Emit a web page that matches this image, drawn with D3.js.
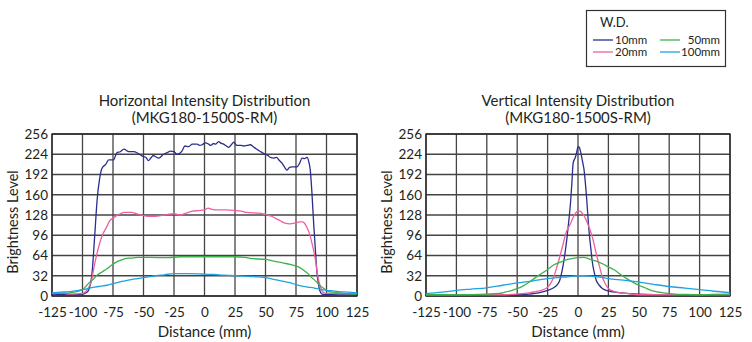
<!DOCTYPE html>
<html><head><meta charset="utf-8">
<script src="https://cdn.jsdelivr.net/npm/d3@7"></script>
<style>
body{margin:0;background:#fff;}
svg text{font-family:Lato,"Open Sans",sans-serif;fill:#231f20;}
</style></head>
<body><svg id="c" width="752" height="342"></svg>
<script>
// ---- data ----
const seriesNames = ["10mm","20mm","50mm","100mm"];
const seriesColors = ["#2a2e8c","#ef5f9f","#3db24a","#1ea3e0"];
const xTicks = [-125,-100,-75,-50,-25,0,25,50,75,100,125];
const yTicks = [0,32,64,96,128,160,192,224,256];
const titlesH = ["Horizontal Intensity Distribution","(MKG180-1500S-RM)"];
const titlesV = ["Vertical Intensity Distribution","(MKG180-1500S-RM)"];

// Horizontal distribution [distance, brightness]
const h10 = [[-125,3],[-110,2],[-100,3],[-97,5],[-95,9],[-92,40],[-90,95],[-88,152],[-86,185],[-84,202],[-81,208],[-78.5,215],[-74.5,215],[-72,226],[-69,228],[-66,232],[-62,228],[-58,228],[-55,226],[-51,221],[-48,219],[-46,214],[-44,218],[-42,222],[-40,220],[-37.5,218],[-33.5,224],[-30,227],[-28,229],[-25,228],[-22.5,224],[-20,226],[-18.5,229],[-16,237],[-13,236],[-10,240],[-6,240],[-4,238],[-2,239],[0.7,242],[3.4,240],[5,238],[7.5,241],[9,240],[11.6,244],[13,242],[15.7,240],[18,237],[19.8,235],[22,239],[24,243],[26.6,238],[30,238],[32,237],[35,238],[37.5,239],[40,236],[42,233],[44.4,230],[47,227],[49.9,224],[52,222],[54,219],[57,218],[59,219],[61,215],[63.5,210],[65.5,204],[67.6,199],[69.5,203],[71.7,204],[75.8,204],[78,210],[80,218],[82,217],[84,219],[85.5,212],[86.7,199],[88,165],[89.5,114],[91,70],[92,41],[93.5,18],[94.4,9],[96.3,3],[100,2],[110,3],[125,3]];
const h20 = [[-125,5],[-115,4],[-110,3],[-100,4],[-98,6],[-95.5,12],[-93,22],[-90,51],[-88,68],[-86,83],[-83,99],[-80,110],[-78,118],[-75,123],[-72,127],[-69,130],[-66,132],[-60,132],[-56,130],[-52,128],[-45,126],[-40,126],[-36,127],[-30,129],[-25,130],[-20,128],[-15,131],[-10,134],[-5,135],[0,136],[3,139],[6,137],[12,136],[18,136],[25,135],[30,134],[35,132],[45,131],[50,129],[55,126],[58,123],[62,119],[66,115],[70,114],[74,115],[78,117],[80,117],[82,115],[84,108],[86,99],[88,84],[90,67],[91.5,50],[93,30],[95,15],[96,9],[98,5],[100,4],[110,4],[125,4]];
const h50 = [[-125,4],[-110,5],[-100,10],[-95,20],[-91,27],[-88,33],[-84,38],[-80,43],[-76,49],[-72,54],[-68,57],[-65,59],[-60,60],[-55,61],[-45,61],[-30,60.5],[-20,62],[-10,62],[0,62],[10,62],[25,62],[33,61],[40,59],[50,58],[55,56],[60,54],[65,52],[70,50],[74,48],[77,46],[81,41],[85,35],[88,29],[92,22],[95,16],[97,13],[100,9],[102,7],[106,6],[110,5],[125,3]];
const h100 = [[-125,5],[-118,6],[-110,7],[-105,8.5],[-100,10],[-95,12],[-90,14],[-85,15.5],[-80,17],[-75,19.5],[-70,22],[-65,24],[-60,26],[-55,27.5],[-50,29],[-45,30.5],[-40,32],[-33,33.5],[-25,35.5],[-15,35.5],[-5,35],[0,34.5],[8,34],[15,33],[25,32],[33,31.5],[40,30.5],[50,29],[55,27],[60,25],[65,23],[70,21],[75,18],[80,15.5],[85,14],[90,12.5],[95,10.5],[100,9],[105,8],[110,7],[118,6],[125,5]];

// Vertical distribution [distance, brightness]
const v10 = [[-125,1],[-100,1],[-75,2],[-50,2],[-40,3],[-35,4],[-30,6],[-25,9],[-20,13],[-17,18],[-15,25],[-13.5,36],[-12,51],[-10.5,70],[-9,93],[-7.5,120],[-6,151],[-5,180],[-4,210],[-2,220],[-1,228],[0,236],[1,235],[2,229],[3,220],[4,210],[5,199],[6,180],[7,157],[8,130],[9,104],[10.5,76],[12,51],[13.5,36],[15,25],[17.5,17],[20,12],[25,8],[30,6],[35,5],[50,3],[75,2],[100,2],[125,2]];
const v20 = [[-125,2],[-100,2],[-75,2],[-60,2],[-50,3],[-40,5],[-35,7],[-30,9],[-25,14],[-22.5,20],[-20,30],[-17.5,45],[-15,62],[-12.5,80],[-10,99],[-8,108],[-6,115],[-4.5,122],[-3,128],[-1.5,132],[0,134],[1.5,134],[3,132],[4.5,128],[6,123],[8,114],[10,104],[12.5,88],[15,67],[17.5,48],[20,30],[22.5,19],[25,12],[30,7],[35,5],[40,4],[50,2],[75,2],[100,2],[125,2]];
const v50 = [[-125,2],[-100,2],[-75,3],[-65,4],[-60,6],[-55,8.5],[-50,11.6],[-45,16],[-40,22],[-35,29],[-30,35.5],[-25,42],[-20,49],[-15,53],[-10,57],[-5,59],[0,60.5],[5,61],[8,59.5],[10,58],[15,55],[20,51],[25,46],[30,41],[35,34],[40,27.5],[45,22],[50,17],[55,13],[60,9],[65,6.5],[70,5],[80,3],[90,2.5],[100,2],[110,2.5],[125,3]];
const v100 = [[-125,3.7],[-112,6],[-100,9],[-88,11],[-75,13],[-62,17],[-50,20.6],[-37,24],[-25,27.5],[-15,29.5],[-10,30],[-5,31],[0,32],[5,32],[10,31.5],[18,30],[25,27.5],[37,25],[50,22],[62,18.5],[75,15],[88,12.5],[100,10],[112,7.5],[125,5.3]];

const hSeries = [h10,h20,h50,h100];
const vSeries = [v10,v20,v50,v100];

// ---- drawing ----
const svg = d3.select("#c");

function panel(x0, x1, titles, series){
  const y0 = 134, y1 = 296;
  const x = d3.scaleLinear().domain([-125,125]).range([x0,x1]);
  const y = d3.scaleLinear().domain([0,256]).range([y1,y0]);
  const g = svg.append("g");
  // grid
  g.append("g").selectAll("line").data(xTicks).join("line")
    .attr("x1",d=>x(d)).attr("x2",d=>x(d)).attr("y1",y0).attr("y2",y1)
    .attr("stroke","#444").attr("stroke-width",1.3);
  g.append("g").selectAll("line").data(yTicks).join("line")
    .attr("y1",d=>y(d)).attr("y2",d=>y(d)).attr("x1",x0).attr("x2",x1)
    .attr("stroke","#444").attr("stroke-width",1.3);
  g.append("rect").attr("x",x0).attr("y",y0).attr("width",x1-x0).attr("height",y1-y0)
    .attr("fill","none").attr("stroke","#222").attr("stroke-width",1.3);
  // axes labels via d3 axes
  const ax = g.append("g").attr("transform",`translate(0,${y1})`)
    .call(d3.axisBottom(x).tickValues(xTicks).tickFormat(d=>String(d)).tickSize(0).tickPadding(11));
  ax.select(".domain").remove();
  ax.selectAll("text").attr("font-size",13.5).attr("font-family","Lato").attr("fill","#231f20");
  const ay = g.append("g").attr("transform",`translate(${x0},0)`)
    .call(d3.axisLeft(y).tickValues(yTicks).tickFormat(d=>String(d)).tickSize(0).tickPadding(4));
  ay.select(".domain").remove();
  ay.selectAll("text").attr("font-size",13.5).attr("font-family","Lato").attr("fill","#231f20");
  // lines
  const line = d3.line().x(d=>x(d[0])).y(d=>y(d[1])).curve(d3.curveMonotoneX);
  series.forEach((s,i)=>{
    g.append("path").datum(s).attr("d",line).attr("fill","none")
      .attr("stroke",seriesColors[i]).attr("stroke-width",1.3);
  });
  // titles
  const cx = (x0+x1)/2;
  g.append("text").attr("x",cx).attr("y",106).attr("text-anchor","middle").attr("font-size",15).text(titles[0]);
  g.append("text").attr("x",cx).attr("y",123).attr("text-anchor","middle").attr("font-size",15).text(titles[1]);
  g.append("text").attr("x",cx).attr("y",337).attr("text-anchor","middle").attr("font-size",15).text("Distance (mm)");
  g.append("text").attr("transform",`translate(${x0-34},${(y0+y1)/2+7}) rotate(-90)`)
    .attr("text-anchor","middle").attr("font-size",14.5).text("Brightness Level");
}
panel(52, 357, titlesH, hSeries);
panel(426, 730, titlesV, vSeries);

// legend
const lg = svg.append("g");
lg.append("rect").attr("x",586.5).attr("y",10.5).attr("width",139).attr("height",56)
  .attr("fill","#fff").attr("stroke","#333").attr("stroke-width",1.2);
lg.append("text").attr("x",600).attr("y",27).attr("font-size",13).text("W.D.");
const legPos = [[593,40],[593,52],[660,40],[660,52]];
seriesNames.forEach((n,i)=>{
  const [lx,ly] = legPos[i];
  lg.append("line").attr("x1",lx).attr("x2",lx+20).attr("y1",ly).attr("y2",ly)
    .attr("stroke",seriesColors[i]).attr("stroke-width",1.3);
  if(i<2){
    lg.append("text").attr("x",lx+22).attr("y",ly+4).attr("font-size",11.5).text(n);
  } else {
    lg.append("text").attr("x",720).attr("y",ly+4).attr("text-anchor","end").attr("font-size",11.5).text(n);
  }
});
</script></body></html>
